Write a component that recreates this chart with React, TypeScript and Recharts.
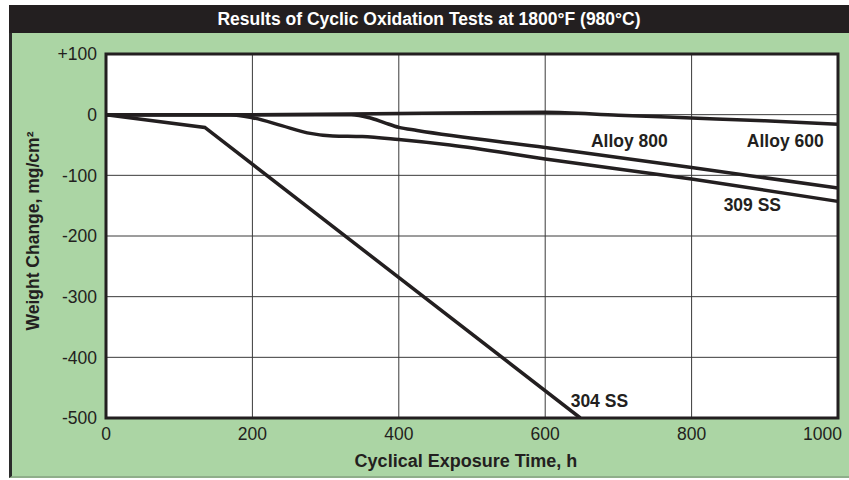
import React from 'react';
import {
  LineChart,
  Line,
  XAxis,
  YAxis,
  CartesianGrid,
  ReferenceArea,
  ReferenceDot,
  Label,
} from 'recharts';

// ---- data ----
const xTicks = [0, 200, 400, 600, 800, 1000];
const yTicks = [-500, -400, -300, -200, -100, 0, 100];

const alloy600 = [
  { x: 0, y: 0 },
  { x: 200, y: 0 },
  { x: 400, y: 2 },
  { x: 600, y: 4 },
  { x: 700, y: -1 },
  { x: 800, y: -5.5 },
  { x: 900, y: -10 },
  { x: 1000, y: -16 },
];

const alloy800 = [
  { x: 0, y: 0 },
  { x: 335, y: 0 },
  { x: 360, y: -5 },
  { x: 380, y: -13 },
  { x: 400, y: -21 },
  { x: 425, y: -26 },
  { x: 600, y: -54 },
  { x: 800, y: -87 },
  { x: 1000, y: -121 },
];

const ss309 = [
  { x: 0, y: 0 },
  { x: 170, y: 0 },
  { x: 200, y: -5 },
  { x: 240, y: -18 },
  { x: 275, y: -30 },
  { x: 310, y: -35 },
  { x: 350, y: -36 },
  { x: 400, y: -41 },
  { x: 470, y: -50 },
  { x: 600, y: -73 },
  { x: 800, y: -106 },
  { x: 1000, y: -143 },
];

const ss304 = [
  { x: 0, y: 0 },
  { x: 135, y: -21 },
  { x: 648, y: -500 },
];

const labelNames = ['Alloy 800', 'Alloy 600', '309 SS', '304 SS'];
const labelX = [715, 928, 883, 674];
const labelY = [-43, -43, -149, -471];

const titleText = 'Results of Cyclic Oxidation Tests at 1800°F (980°C)';
const xAxisTitle = 'Cyclical Exposure Time, h';
const yAxisTitle = 'Weight Change, mg/cm²';

// ---- styles ----
const FONT = '"Liberation Sans", Arial, Helvetica, sans-serif';
const INK = '#231f20';
const GREEN = '#abd5a4';

const XTick = (props: any) => {
  const { x, y, payload } = props;
  const last = payload.value === xTicks[xTicks.length - 1];
  return (
    <text
      x={last ? x + 4 : x}
      y={y}
      dy="0.71em"
      textAnchor={last ? 'end' : 'middle'}
      fill={INK}
      fontSize={17.5}
      fontFamily={FONT}
    >
      {payload.value}
    </text>
  );
};

const YTitle = (props: any) => {
  const vb = props.viewBox || {};
  const cx = vb.x + 29;
  const cy = vb.y + vb.height / 2 - 5;
  return (
    <text
      transform={`translate(${cx}, ${cy}) rotate(-90)`}
      textAnchor="middle"
      fill={INK}
      fontSize={17.5}
      fontWeight="bold"
      fontFamily={FONT}
    >
      {yAxisTitle}
    </text>
  );
};

const XTitle = (props: any) => {
  const vb = props.viewBox || {};
  return (
    <text
      x={vb.x + vb.width / 2 - 6}
      y={vb.y + 49}
      textAnchor="middle"
      fill={INK}
      fontSize={18}
      fontWeight="bold"
      fontFamily={FONT}
    >
      {xAxisTitle}
    </text>
  );
};

export default function App() {
  return (
    <div
      style={{
        position: 'absolute',
        left: 0,
        top: 0,
        width: 849,
        height: 480,
        background: '#fff',
        overflow: 'hidden',
        fontFamily: FONT,
      }}
    >
      <div
        style={{
          position: 'absolute',
          left: 9,
          top: 5,
          width: 840,
          height: 473,
          background: GREEN,
          boxSizing: 'border-box',
          borderLeft: '3px solid #2b2b2b',
          borderBottom: '2px solid #8fae8a',
        }}
      />
      <div
        style={{
          position: 'absolute',
          left: 9,
          top: 5,
          width: 840,
          height: 28,
          background: INK,
          color: '#fff',
          fontWeight: 'bold',
          fontSize: 17.5,
          lineHeight: '28px',
          textAlign: 'center',
          fontFamily: FONT,
        }}
      >
        {titleText}
      </div>
      <div style={{ position: 'absolute', left: 0, top: 0 }}>
        <LineChart
          width={849}
          height={480}
          margin={{ top: 54, right: 11, bottom: 0, left: 10 }}
        >
          <CartesianGrid stroke="#3a3a3a" strokeWidth={1} fill="#fff" fillOpacity={1} />
          <XAxis
            type="number"
            dataKey="x"
            domain={[0, 1000]}
            ticks={xTicks}
            interval={0}
            tickLine={false}
            axisLine={false}
            tickSize={0}
            tickMargin={10}
            height={62}
            tick={<XTick />}
            allowDataOverflow
          >
            <Label content={<XTitle />} />
          </XAxis>
          <YAxis
            type="number"
            domain={[-500, 100]}
            ticks={yTicks}
            interval={0}
            tickLine={false}
            axisLine={false}
            tickSize={0}
            tickMargin={9}
            width={96}
            tick={{ fill: INK, fontSize: 17.5, fontFamily: FONT }}
            tickFormatter={(v: number) => (v > 0 ? `+${v}` : `${v}`)}
            allowDataOverflow
          >
            <Label content={<YTitle />} />
          </YAxis>
          <Line data={alloy600} dataKey="y" type="monotone" stroke={INK} strokeWidth={3.5} dot={false} isAnimationActive={false} />
          <Line data={alloy800} dataKey="y" type="monotone" stroke={INK} strokeWidth={3.5} dot={false} isAnimationActive={false} />
          <Line data={ss309} dataKey="y" type="monotone" stroke={INK} strokeWidth={3.5} dot={false} isAnimationActive={false} />
          <Line data={ss304} dataKey="y" type="linear" stroke={INK} strokeWidth={3.5} dot={false} isAnimationActive={false} />
          <ReferenceArea
            x1={0}
            x2={1000}
            y1={-500}
            y2={100}
            fill="none"
            stroke={INK}
            strokeWidth={3}
            ifOverflow="visible"
          />
          {labelNames.map((name, i) => (
            <ReferenceDot
              key={name}
              x={labelX[i]}
              y={labelY[i]}
              r={0}
              fill="none"
              stroke="none"
              ifOverflow="visible"
              label={{
                value: name,
                position: 'center',
                fill: INK,
                fontSize: 17.5,
                fontWeight: 'bold',
                fontFamily: FONT,
              }}
            />
          ))}
        </LineChart>
      </div>
    </div>
  );
}
